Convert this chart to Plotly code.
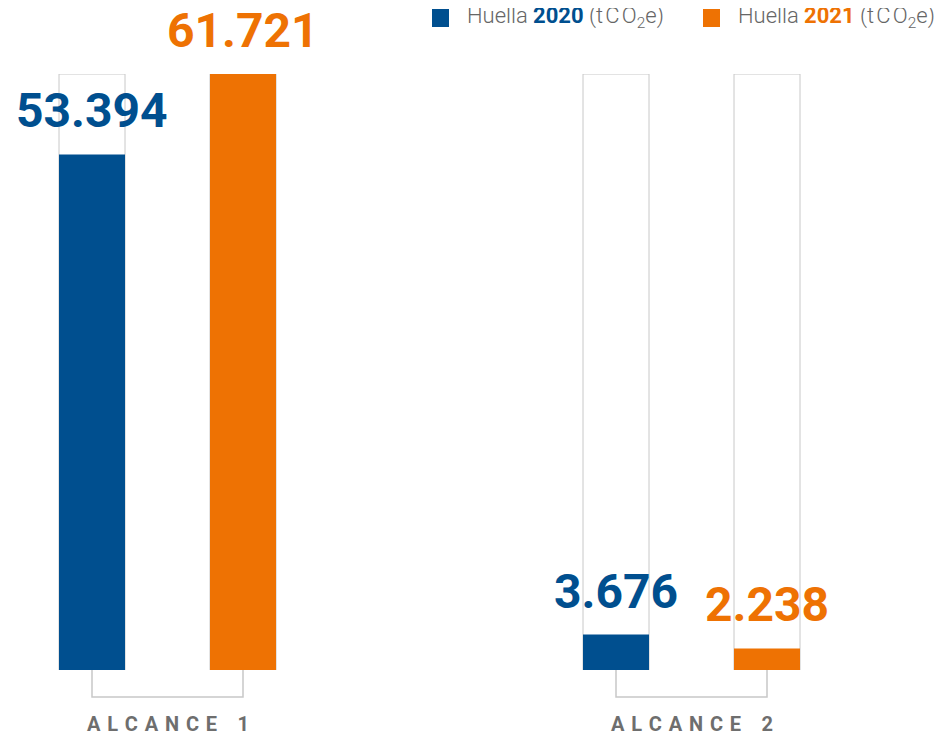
import plotly.graph_objects as go

# ---- data ----
categories = ["ALCANCE 1", "ALCANCE 2"]
huella_2020 = [53394, 3676]
huella_2021 = [61721, 2238]
series_years = ["2020", "2021"]

# ---- style ----
BLUE = "#004f8f"
ORANGE = "#ee7203"
GRAY_TEXT = "#6e6e6e"
LINE_GRAY = "#c8c8c8"
FONT = "Roboto"

PAGE_OFF = 8            # page body margin offset
W, H = 950 - PAGE_OFF, 734 - PAGE_OFF
M_T = 74 - PAGE_OFF
M_B = 64
M_L, M_R = 0, 0
cat_px = 524.0          # pixel distance between category centres
first_px = 167.5 - PAGE_OFF
half_sep = 75.5 / cat_px
bar_w = 66 / cat_px

x_idx = list(range(len(categories)))
x20 = [i - half_sep for i in x_idx]
x21 = [i + half_sep for i in x_idx]
ymax = max(max(huella_2020), max(huella_2021))


def fmt(v):
    return f"{v:,}".replace(",", ".")


fig = go.Figure()

fig.add_trace(go.Bar(x=x20 + x21, y=[ymax] * (2 * len(categories)), width=bar_w,
                     marker=dict(color="rgba(255,255,255,0)", line=dict(color=LINE_GRAY, width=1)),
                     hoverinfo="skip", showlegend=False))
fig.add_trace(go.Bar(x=x20, y=huella_2020, width=bar_w, name="Huella 2020",
                     marker=dict(color=BLUE, line=dict(width=0)), showlegend=False))
fig.add_trace(go.Bar(x=x21, y=huella_2021, width=bar_w, name="Huella 2021",
                     marker=dict(color=ORANGE, line=dict(width=0)), showlegend=False))

annotations = []
for xs, vals, col in [(x20, huella_2020, BLUE), (x21, huella_2021, ORANGE)]:
    for x, v in zip(xs, vals):
        annotations.append(dict(x=x, y=v, xref="x", yref="y", text=f"<b>{fmt(v)}</b>",
                                showarrow=False, yanchor="bottom", yshift=13,
                                font=dict(family=FONT, size=48, color=col)))

plot_h = H - M_T - M_B
yb = -27 / plot_h
shapes = []
for i, cat in enumerate(categories):
    shapes.append(dict(type="path", xref="x", yref="paper",
                       path=f"M {x20[i]},0 L {x20[i]},{yb} L {x21[i]},{yb} L {x21[i]},0",
                       line=dict(color=LINE_GRAY, width=1.5)))
    spaced = "\u2004".join(list(cat.replace(" ", "\u2004")))
    annotations.append(dict(x=i, y=-54 / plot_h, xref="x", yref="paper", text=f"<b>{spaced}</b>",
                            showarrow=False, yanchor="middle",
                            font=dict(family=FONT, size=20, color=GRAY_TEXT)))

# legend (manual)
legend_items = [(series_years[0], BLUE, 432), (series_years[1], ORANGE, 703)]
for year, col, px in legend_items:
    px -= PAGE_OFF
    shapes.append(dict(type="rect", xref="paper", yref="paper",
                       x0=px / W, x1=(px + 17) / W,
                       y0=1 + (M_T - 27 + PAGE_OFF) / plot_h, y1=1 + (M_T - 9 + PAGE_OFF) / plot_h,
                       fillcolor=col, line=dict(width=0)))
    annotations.append(dict(x=(px + 33) / W, y=1 + (M_T - 18 + PAGE_OFF) / plot_h,
                            xref="paper", yref="paper",
                            xanchor="left", yanchor="middle", showarrow=False,
                            text=f"Huella <b><span style='color:{col}'>{year}</span></b> (t\u200aC\u200aO<sub>2</sub>e)",
                            font=dict(family=FONT, size=22, color="#666666", weight=300)))

fig.update_layout(
    width=W, height=H,
    margin=dict(l=M_L, r=M_R, t=M_T, b=M_B),
    barmode="overlay",
    plot_bgcolor="white", paper_bgcolor="white",
    xaxis=dict(range=[-first_px / cat_px, (W - first_px) / cat_px], visible=False),
    yaxis=dict(range=[0, ymax], visible=False),
    showlegend=False,
    annotations=annotations,
    shapes=shapes,
)

fig.write_html("out.html")
